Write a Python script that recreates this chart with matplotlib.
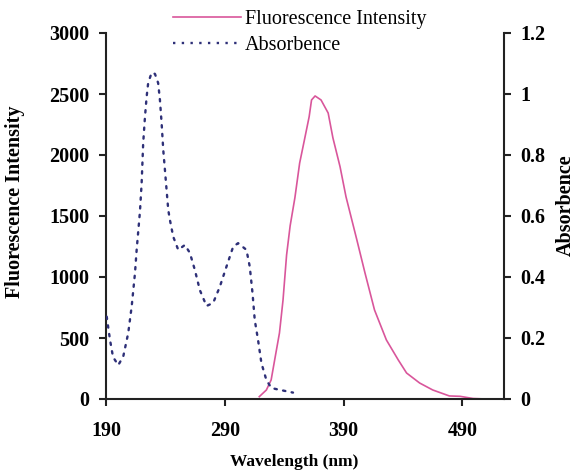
import matplotlib
matplotlib.use("Agg")
import matplotlib.pyplot as plt
from matplotlib.lines import Line2D

# ---- data ----
fl_wavelength = [319, 325, 329, 333, 336, 339, 342, 345, 349, 353, 357, 361, 363, 366,
                 371, 377, 381, 387, 392, 401, 408, 416, 426, 436, 443, 454, 465, 479,
                 488, 499, 510, 524]
fl_intensity = [19, 74, 156, 377, 541, 811, 1180, 1420, 1650, 1934, 2123, 2314, 2451, 2484,
                2451, 2344, 2140, 1904, 1658, 1310, 1033, 730, 484, 320, 213, 131, 74, 25,
                22, 4, 0, 0]

abs_wavelength = [190.6, 193.4, 195.9, 200.3, 204.5, 208.7, 211.6, 214.4, 215.8, 218.6,
                  220.0, 221.3, 222.8, 224.2, 225.5, 228.4, 231.2, 233.9, 235.4, 236.8,
                  238.2, 239.6, 241.0, 242.4, 243.8, 246.6, 250.8, 256.4, 260.6, 264.8,
                  269.0, 274.6, 280.2, 285.8, 291.4, 297.0, 301.2, 308.2, 311.0, 313.3,
                  315.2, 318.0, 320.8, 325.0, 329.2, 336.2, 347.4]
absorbance = [0.27, 0.193, 0.138, 0.111, 0.139, 0.216, 0.303, 0.413, 0.489, 0.616,
              0.708, 0.839, 0.925, 0.991, 1.036, 1.070, 1.066, 1.036, 0.980, 0.905,
              0.816, 0.751, 0.685, 0.620, 0.587, 0.532, 0.489, 0.505, 0.479, 0.423,
              0.357, 0.305, 0.315, 0.368, 0.434, 0.499, 0.511, 0.489, 0.434, 0.348,
              0.259, 0.193, 0.118, 0.062, 0.036, 0.030, 0.021]

x_ticks = [190, 290, 390, 490]
left_ticks = [0, 500, 1000, 1500, 2000, 2500, 3000]
right_ticks = [0, 0.2, 0.4, 0.6, 0.8, 1.0, 1.2]
right_tick_labels = ["0", "0.2", "0.4", "0.6", "0.8", "1", "1.2"]

pink = "#D9569B"
navy = "#2E3078"

plt.rcParams['font.family'] = ['Liberation Serif', 'DejaVu Serif']

fig = plt.figure(figsize=(5.77, 4.72), dpi=100)
ax = fig.add_axes([106/577, 1-399/472, (504-106)/577, (399-33)/472])
ax2 = ax.twinx()

ax.plot(fl_wavelength, fl_intensity, color=pink, lw=1.2, solid_joinstyle='round')
ax2.plot(abs_wavelength, absorbance, color=navy, lw=1.7, linestyle=(0, (1.0, 2.7)),
         dash_capstyle='round')

ax.set_xlim(190, 525)
ax.set_ylim(0, 3000)
ax2.set_ylim(0, 1.2)

ax.set_xticks(x_ticks)
ax.set_yticks(left_ticks)
ax2.set_yticks(right_ticks)
ax2.set_yticklabels(right_tick_labels)

for a in (ax, ax2):
    a.spines['top'].set_visible(False)
    for s in a.spines.values():
        s.set_linewidth(1.5)
        s.set_color('#222222')
ax.spines['right'].set_visible(False)
ax2.spines['left'].set_visible(False)
ax2.spines['bottom'].set_visible(False)

tick_fs = 14.5
ax.tick_params(axis='x', direction='out', length=5, width=1.5, pad=11,
               labelsize=tick_fs, colors='#222222')
ax.tick_params(axis='y', direction='out', length=5, width=1.5, pad=7,
               labelsize=tick_fs, colors='#222222')
ax2.tick_params(axis='y', direction='out', length=5, width=1.5, pad=7,
                labelsize=tick_fs, colors='#222222')
for lab in ax.get_xticklabels() + ax.get_yticklabels() + ax2.get_yticklabels():
    lab.set_fontweight('bold')
    lab.set_color('black')

fig.text(294/577, 1-462/472, "Wavelength (nm)", ha='center', va='center',
         fontsize=12.5, fontweight='bold')
fig.text(15/577, 1-202/472, "Fluorescence Intensity", ha='center', va='center',
         rotation=90, fontsize=14.5, fontweight='bold')
fig.text(566/577, 1-205/472, "Absorbence", ha='center', va='center',
         rotation=90, fontsize=14.5, fontweight='bold')

handles = [Line2D([], [], color=pink, lw=1.2),
           Line2D([], [], color=navy, lw=1.7, linestyle=(0, (1.0, 2.7)))]
fig.legend(handles, ["Fluorescence Intensity", "Absorbence"],
           loc='upper left', bbox_to_anchor=(171/577, 1-8/472),
           frameon=False, fontsize=14.5, handlelength=3.4, handletextpad=0.15,
           labelspacing=0.35, borderaxespad=0, borderpad=0.1)

fig.savefig("out.png", dpi=100, facecolor='white')
